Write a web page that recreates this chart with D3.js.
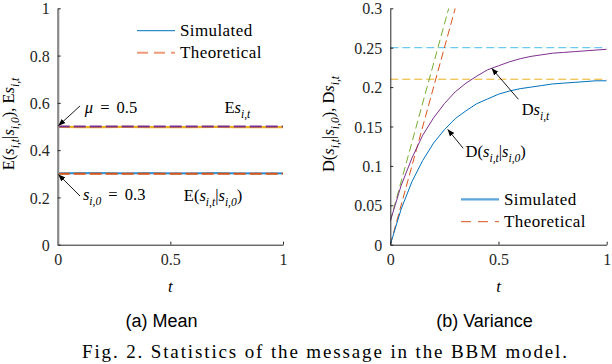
<!DOCTYPE html>
<html>
<head>
<meta charset="utf-8">
<script src="https://cdn.jsdelivr.net/npm/d3@7"></script>
<style>
  body { margin: 0; background: #fff; }
  svg { display: block; }
  .tick text { font-family: "Liberation Serif", "Times New Roman", "DejaVu Serif", serif; font-size: 16px; fill: #262626; }
  .serif { font-family: "Liberation Serif", "Times New Roman", "DejaVu Serif", serif; fill: #000; }
  .sans { font-family: "Liberation Sans", Arial, sans-serif; fill: #000; }
</style>
</head>
<body>
<svg id="chart" width="612" height="364"></svg>
<script>

// ---- data ----
const tMean = [0, 0.1, 0.2, 0.3, 0.4, 0.5, 0.6, 0.7, 0.8, 0.9, 1]
const condMeanSim = [0.302, 0.303, 0.303, 0.302, 0.303, 0.302, 0.302, 0.303, 0.302, 0.302, 0.302]
const meanSim = [0.498, 0.497, 0.497, 0.498, 0.497, 0.497, 0.497, 0.498, 0.497, 0.497, 0.497]
const tTheoMean = [0, 1]
const condMeanTheo = [0.3, 0.3]
const meanTheo = [0.5, 0.5]

const tVar = [0, 0.05, 0.1, 0.15, 0.2, 0.25, 0.3, 0.35, 0.4, 0.45, 0.5,
              0.55, 0.6, 0.65, 0.7, 0.75, 0.8, 0.85, 0.9, 0.95, 1]
const condVarSim = [0, 0.045, 0.080, 0.107, 0.129, 0.146, 0.160, 0.170, 0.179, 0.185, 0.191,
                    0.195, 0.198, 0.200, 0.202, 0.204, 0.205, 0.206, 0.207, 0.208, 0.208]
const varSim = [0.030, 0.075, 0.110, 0.139, 0.161, 0.179, 0.194, 0.205, 0.214, 0.222, 0.227,
                0.232, 0.236, 0.239, 0.241, 0.243, 0.244, 0.245, 0.246, 0.247, 0.248]
const varLimit = 0.25
const condVarLimit = 0.21
const varTangent = [[0, 0.03], [0.27, 0.3]]
const condVarTangent = [[0, 0], [0.3, 0.3]]

const meanTicks = [0, 0.2, 0.4, 0.6, 0.8, 1]
const varTicks = [0, 0.05, 0.1, 0.15, 0.2, 0.25, 0.3]
const tTicks = [0, 0.5, 1]

const colors = {
  blue: "#0072BD", orange: "#D95319", yellow: "#EDB120",
  purple: "#7E2F8E", green: "#77AC30", cyan: "#4DBEEE"
}

const svg = d3.select("#chart")

svg.append("defs").append("marker")
  .attr("id", "arrow")
  .attr("viewBox", "0 0 10 10")
  .attr("refX", 10).attr("refY", 5)
  .attr("markerWidth", 7).attr("markerHeight", 7)
  .attr("markerUnits", "userSpaceOnUse")
  .attr("orient", "auto")
  .append("path")
  .attr("d", "M0,1 L10,5 L0,9 Z")
  .attr("fill", "#000")

// math-ish text: parts are [text, kind] with kind r (roman), i (italic), s (italic subscript)
function mathText(g, x, y, parts, size, anchor, transform) {
  const t = g.append("text")
    .attr("class", "serif")
    .attr("x", x).attr("y", y)
    .attr("font-size", size)
    .attr("text-anchor", anchor || "start")
  if (transform) t.attr("transform", transform)
  let low = false
  parts.forEach(([txt, kind]) => {
    const sp = t.append("tspan").text(txt)
    if (kind == "s") {
      sp.attr("font-size", size * 0.7).attr("font-style", "italic")
      if (!low) sp.attr("dy", size * 0.3)
      low = true
    } else {
      if (low) sp.attr("dy", -size * 0.3)
      low = false
      if (kind == "i") sp.attr("font-style", "italic")
    }
  })
  return t
}

function arrow(g, x, y, from, to) {
  g.append("line")
    .attr("x1", x(from[0])).attr("y1", y(from[1]))
    .attr("x2", x(to[0])).attr("y2", y(to[1]))
    .attr("stroke", "#000")
    .attr("stroke-width", 0.9)
    .attr("marker-end", "url(#arrow)")
}

function drawAxes(g, x, y, yTicks, fmt, axisColor, axisWidth) {
  const xAxis = d3.axisBottom(x).tickValues(tTicks).tickSizeInner(-3).tickSizeOuter(0)
    .tickPadding(9).tickFormat(d3.format("~g"))
  const yAxis = d3.axisLeft(y).tickValues(yTicks).tickSizeInner(-3).tickSizeOuter(0)
    .tickPadding(8).tickFormat(fmt)

  const gx = g.append("g").attr("transform", `translate(0,${y.range()[0]})`).call(xAxis)
  const gy = g.append("g").attr("transform", `translate(${x.range()[0]},0)`).call(yAxis)

  gx.attr("font-family", null)
  gy.attr("font-family", null)
  gx.select(".domain").attr("stroke", "#262626").attr("stroke-width", 1)
  gx.selectAll(".tick line").attr("stroke", "#262626")
  gy.select(".domain").attr("stroke", axisColor).attr("stroke-width", axisWidth)
  gy.selectAll(".tick line").attr("stroke", "#262626")
  gx.selectAll(".tick text").attr("dy", "0.71em")
  gy.selectAll(".tick text").attr("dy", "0.35em")
}

function legend(g, x0, y0, gap, thick) {
  const items = [
    { label: "Simulated", color: thick ? "#5DA5DA" : colors.blue, dash: null, w: thick ? 2.2 : 1 },
    { label: "Theoretical", color: thick ? colors.orange : "#EE9A78", dash: thick ? "10,7" : "11,6", w: thick ? 1 : 2 }
  ]
  items.forEach((d, i) => {
    g.append("line")
      .attr("x1", x0).attr("x2", x0 + 38)
      .attr("y1", y0 + i * gap).attr("y2", y0 + i * gap)
      .attr("stroke", d.color)
      .attr("stroke-width", d.w)
      .attr("stroke-dasharray", d.dash)
    g.append("text")
      .attr("class", "serif")
      .attr("x", x0 + 43).attr("y", y0 + i * gap + 5.5)
      .attr("font-size", 17)
      .attr("letter-spacing", 0.4)
      .text(d.label)
  })
}

// ---- (a) Mean ----
const xa = d3.scaleLinear().domain([0, 1]).range([57.7, 283])
const ya = d3.scaleLinear().domain([0, 1]).range([244.7, 8.3])
const ga = svg.append("g")

const lineA = (ts, vs) => d3.line().x((d, i) => xa(ts[i])).y(d => ya(d))(vs)

ga.append("path").attr("d", lineA(tMean, meanSim))
  .attr("fill", "none").attr("stroke", colors.yellow).attr("stroke-width", 2.2)
ga.append("path").attr("d", lineA(tTheoMean, meanTheo))
  .attr("fill", "none").attr("stroke", colors.purple).attr("stroke-width", 2)
  .attr("stroke-dasharray", "12,4")
ga.append("path").attr("d", lineA(tMean, condMeanSim))
  .attr("fill", "none").attr("stroke", "#6AAEE0").attr("stroke-width", 2.2)
ga.append("path").attr("d", lineA(tMean, condMeanSim))
  .attr("fill", "none").attr("stroke", colors.blue).attr("stroke-width", 0.8)
ga.append("path").attr("d", lineA(tTheoMean, condMeanTheo))
  .attr("fill", "none").attr("stroke", colors.orange).attr("stroke-width", 2)
  .attr("stroke-dasharray", "12,4")

drawAxes(ga, xa, ya, meanTicks, d3.format("~g"), "#8a8a8a", 2.2)
legend(ga, 137, 30.7, 22, false)

arrow(ga, xa, ya, [0.099, 0.587], [0.003, 0.503])
arrow(ga, xa, ya, [0.099, 0.206], [0.003, 0.297])
mathText(ga, xa(0.12), ya(0.557), [["μ", "i"], [" = 0.5", "r"]], 16.5).attr("word-spacing", 3)
mathText(ga, xa(0.74), ya(0.557), [["E", "r"], ["s", "i"], ["i,t", "s"]], 16.5)
mathText(ga, xa(0.112), ya(0.189), [["s", "i"], ["i,0", "s"], [" = 0.3", "r"]], 16.5).attr("word-spacing", 3)
mathText(ga, xa(0.56), ya(0.186), [["E(", "r"], ["s", "i"], ["i,t", "s"], ["|", "r"], ["s", "i"], ["i,0", "s"], [")", "r"]], 16.5)

mathText(ga, 0, 0, [["E(", "r"], ["s", "i"], ["i,t", "s"], ["|", "r"], ["s", "i"], ["i,0", "s"], ["), E", "r"], ["s", "i"], ["i,t", "s"]],
  16.5, "middle", "translate(14,124) rotate(-90)")
ga.append("text").attr("class", "serif").attr("x", xa(0.5)).attr("y", 292)
  .attr("font-size", 17).attr("font-style", "italic").attr("text-anchor", "middle").text("t")
ga.append("text").attr("class", "sans").attr("x", 161.5).attr("y", 327)
  .attr("font-size", 18).attr("text-anchor", "middle").text("(a) Mean")

// ---- (b) Variance ----
const xb = d3.scaleLinear().domain([0, 1]).range([390.3, 606.7])
const yb = d3.scaleLinear().domain([0, 0.3]).range([244.7, 8.3])
const gb = svg.append("g")

svg.select("defs").append("clipPath").attr("id", "clipB")
  .append("rect").attr("x", 390.3).attr("y", 8.3).attr("width", 216.4).attr("height", 236.4)
const plotB = gb.append("g").attr("clip-path", "url(#clipB)")

const lineB = d3.line().x(d => xb(d[0])).y(d => yb(d[1]))

plotB.append("path").attr("d", lineB([[0, varLimit], [1, varLimit]]))
  .attr("fill", "none").attr("stroke", colors.cyan).attr("stroke-width", 1)
  .attr("stroke-dasharray", "8,4")
plotB.append("path").attr("d", lineB([[0, condVarLimit], [1, condVarLimit]]))
  .attr("fill", "none").attr("stroke", colors.yellow).attr("stroke-width", 1)
  .attr("stroke-dasharray", "8,4")
plotB.append("path").attr("d", lineB(varTangent))
  .attr("fill", "none").attr("stroke", colors.green).attr("stroke-width", 1)
  .attr("stroke-dasharray", "8,4")
plotB.append("path").attr("d", lineB(condVarTangent))
  .attr("fill", "none").attr("stroke", colors.orange).attr("stroke-width", 1)
  .attr("stroke-dasharray", "8,4")
plotB.append("path").attr("d", lineB(tVar.map((t, i) => [t, varSim[i]])))
  .attr("fill", "none").attr("stroke", colors.purple).attr("stroke-width", 1)
plotB.append("path").attr("d", lineB(tVar.map((t, i) => [t, condVarSim[i]])))
  .attr("fill", "none").attr("stroke", colors.blue).attr("stroke-width", 1)

drawAxes(gb, xb, yb, varTicks, d3.format("~g"), "#262626", 1)
legend(gb, 461, 199.3, 22.4, true)

arrow(gb, xb, yb, [0.592, 0.1845], [0.4686, 0.2239])
arrow(gb, xb, yb, [0.337, 0.1223], [0.265, 0.1464])
mathText(gb, xb(0.607), yb(0.1646), [["D", "r"], ["s", "i"], ["i,t", "s"]], 16.5)
mathText(gb, xb(0.348), yb(0.111), [["D(", "r"], ["s", "i"], ["i,t", "s"], ["|", "r"], ["s", "i"], ["i,0", "s"], [")", "r"]], 16.5)

mathText(gb, 0, 0, [["D(", "r"], ["s", "i"], ["i,t", "s"], ["|", "r"], ["s", "i"], ["i,0", "s"], ["), D", "r"], ["s", "i"], ["i,t", "s"]],
  16.5, "middle", "translate(334,124) rotate(-90)")
gb.append("text").attr("class", "serif").attr("x", xb(0.5)).attr("y", 292)
  .attr("font-size", 17).attr("font-style", "italic").attr("text-anchor", "middle").text("t")
gb.append("text").attr("class", "sans").attr("x", 484.5).attr("y", 327)
  .attr("font-size", 18).attr("text-anchor", "middle").text("(b) Variance")

// ---- figure caption ----
svg.append("text").attr("class", "serif")
  .attr("x", 82).attr("y", 358)
  .attr("font-size", 19)
  .attr("textLength", 485).attr("lengthAdjust", "spacing")
  .text("Fig. 2.  Statistics of the message in the BBM model.")

</script>
</body>
</html>
